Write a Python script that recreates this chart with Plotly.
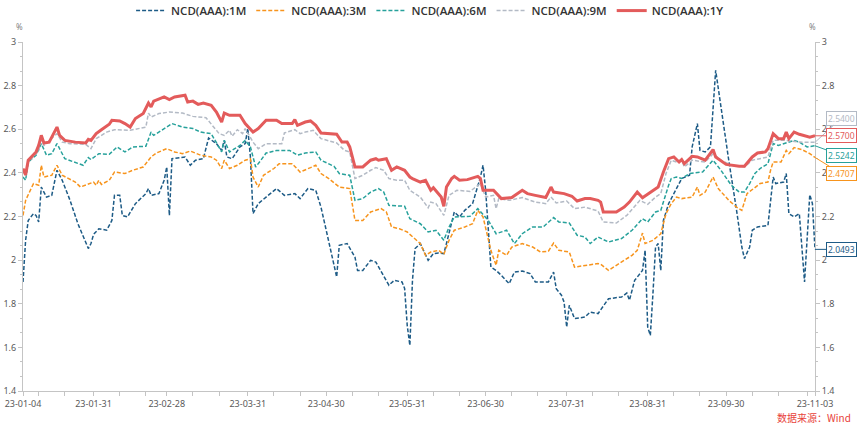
import plotly.graph_objects as go

def D(md):
    return [f"2023-{s}" for s in md]

# ---------------- data ----------------
dates_1m = D(["01-04","01-05","01-06","01-08","01-09","01-10","01-11","01-13","01-15","01-17","01-19","01-22","01-25","01-28","01-29","01-30","01-31",
 "02-02","02-05","02-07","02-08","02-10","02-11","02-13","02-16","02-20","02-21","02-22","02-25","02-27","02-28",
 "03-01","03-02","03-07","03-09","03-11","03-14","03-16","03-19","03-21","03-22","03-23","03-25","03-28","03-30","03-31",
 "04-01","04-02","04-04","04-07","04-11","04-14","04-18","04-20","04-23","04-26","04-28","04-30",
 "05-03","05-04","05-05","05-08","05-11","05-12","05-14","05-17","05-19","05-22","05-24","05-26","05-29","05-30","05-31",
 "06-01","06-02","06-03","06-05","06-08","06-10","06-12","06-14","06-15","06-17","06-18","06-20","06-22","06-25","06-28","06-29","06-30",
 "07-02","07-04","07-06","07-09","07-11","07-14","07-17","07-19","07-24","07-26","07-27","07-29","07-30","07-31",
 "08-01","08-03","08-07","08-09","08-12","08-16","08-21","08-23","08-24","08-26","08-29","08-30","08-31",
 "09-01","09-02","09-03","09-04","09-05","09-06","09-08","09-10","09-13","09-16","09-17","09-19","09-20","09-22","09-24","09-26","09-28",
 "10-01","10-04","10-06","10-07","10-09","10-10","10-12","10-16","10-18","10-19","10-22","10-23","10-24","10-26","10-28","10-30",
 "11-01","11-02","11-03"])
ncd_1m = [1.90,2.091,2.182,2.213,2.205,2.175,2.335,2.289,2.297,2.412,2.366,2.274,2.167,2.076,2.053,2.076,2.118,
 2.144,2.137,2.182,2.297,2.297,2.205,2.198,2.259,2.305,2.328,2.297,2.305,2.366,2.427,
 2.205,2.465,2.473,2.435,2.458,2.465,2.56,2.534,2.503,2.549,2.473,2.465,2.519,2.534,2.603,
 2.473,2.213,2.259,2.289,2.328,2.297,2.305,2.282,2.328,2.32,2.243,2.137,
 1.968,1.923,2.068,2.076,2.014,1.953,1.953,1.999,1.991,1.923,1.885,1.907,1.90,1.87,1.70,
 1.609,1.907,2.053,2.076,1.999,2.03,2.033,2.03,2.076,2.182,2.221,2.198,2.228,2.259,2.381,2.435,2.32,
 1.968,1.953,1.93,1.892,1.945,1.95,1.938,1.90,1.90,1.945,1.869,1.839,1.808,1.693,
 1.793,1.732,1.739,1.762,1.755,1.823,1.831,1.849,1.816,1.907,1.953,2.045,1.693,
 1.655,1.846,2.06,2.076,1.953,2.182,2.259,2.305,2.374,2.389,2.519,2.626,2.503,2.496,2.519,2.87,2.702,
 2.458,2.228,2.06,2.007,2.06,2.137,2.152,2.159,2.381,2.351,2.358,2.397,2.213,2.198,2.213,1.90,
 2.30,2.26,2.0493]

dates_3m = D(["01-04","01-05","01-08","01-10","01-11","01-12","01-15","01-17","01-19","01-24","01-26","01-28","01-31",
 "02-01","02-02","02-03","02-06","02-08","02-12","02-15","02-19","02-22","02-24","02-28",
 "03-03","03-06","03-09","03-13","03-17","03-19","03-21","03-22","03-24","03-27","03-30",
 "04-01","04-02","04-04","04-06","04-10","04-12","04-17","04-20","04-24","04-26","04-28",
 "05-01","05-05","05-09","05-11","05-14","05-17","05-21","05-23","05-25","05-28","05-31",
 "06-01","06-05","06-07","06-09","06-12","06-14","06-16","06-18","06-22","06-25","06-27","06-29",
 "07-02","07-04","07-05","07-08","07-10","07-14","07-18","07-21","07-24","07-26","07-28",
 "08-01","08-03","08-07","08-12","08-13","08-16","08-19","08-22","08-25","08-27","08-29","08-30",
 "09-02","09-05","09-07","09-09","09-11","09-13","09-17","09-19","09-20","09-22","09-25","09-27",
 "10-01","10-04","10-06","10-08","10-11","10-13","10-16","10-17","10-18","10-21","10-23","10-24","10-26","10-29",
 "11-01","11-03"])
ncd_3m = [2.205,2.274,2.351,2.343,2.435,2.381,2.389,2.435,2.389,2.358,2.335,2.343,2.358,
 2.343,2.366,2.347,2.366,2.404,2.397,2.412,2.427,2.473,2.491,2.511,
 2.496,2.488,2.50,2.481,2.473,2.458,2.42,2.458,2.42,2.435,2.458,
 2.465,2.381,2.335,2.389,2.42,2.442,2.442,2.404,2.424,2.435,2.397,
 2.374,2.335,2.328,2.182,2.182,2.221,2.236,2.221,2.152,2.144,2.129,
 2.118,2.076,2.022,2.037,2.045,2.027,2.091,2.137,2.152,2.167,2.228,2.198,
 2.045,1.976,2.045,2.022,2.06,2.076,2.06,2.037,2.041,2.078,2.045,
 2.037,1.968,1.976,1.984,1.981,1.953,1.976,1.999,2.022,2.045,2.124,2.076,
 2.091,2.121,2.213,2.259,2.289,2.282,2.289,2.335,2.297,2.312,2.381,2.328,
 2.274,2.243,2.228,2.305,2.335,2.351,2.358,2.412,2.45,2.45,2.503,2.488,2.516,2.507,
 2.488,2.4707]

dates_6m = D(["01-04","01-05","01-06","01-09","01-11","01-13","01-15","01-17","01-20","01-25","01-27","01-29","01-30",
 "02-02","02-06","02-09","02-12","02-15","02-20","02-22","02-23",
 "03-02","03-06","03-10","03-13","03-17","03-19","03-21","03-22","03-24","03-28","03-30",
 "04-01","04-03","04-05","04-07","04-11","04-16","04-19","04-22","04-26","04-28",
 "05-03","05-05","05-09","05-11","05-14","05-17","05-20","05-22","05-24","05-30",
 "06-01","06-05","06-08","06-11","06-14","06-16","06-18","06-22","06-24","06-27",
 "07-01","07-04","07-08","07-11","07-14","07-18","07-22","07-26","07-28",
 "08-01","08-04","08-07","08-09","08-12","08-16","08-21","08-25","08-29","08-31",
 "09-03","09-05","09-08","09-09","09-11","09-13","09-16","09-21","09-25","09-28",
 "10-02","10-05","10-07","10-09","10-11","10-13","10-16","10-18","10-20","10-23","10-26","10-28","10-31",
 "11-03"])
ncd_6m = [2.381,2.366,2.45,2.481,2.534,2.481,2.488,2.534,2.465,2.442,2.435,2.47,2.461,
 2.488,2.485,2.519,2.496,2.519,2.522,2.587,2.572,
 2.626,2.61,2.603,2.587,2.58,2.541,2.496,2.549,2.496,2.526,2.549,
 2.519,2.427,2.458,2.491,2.503,2.503,2.481,2.491,2.496,2.458,
 2.43,2.397,2.389,2.274,2.282,2.312,2.328,2.312,2.251,2.247,
 2.19,2.167,2.129,2.137,2.091,2.152,2.198,2.198,2.201,2.236,
 2.182,2.121,2.137,2.076,2.121,2.152,2.152,2.195,2.175,
 2.17,2.114,2.106,2.076,2.106,2.083,2.099,2.137,2.19,2.175,
 2.221,2.228,2.343,2.374,2.381,2.374,2.397,2.404,2.458,2.412,
 2.343,2.312,2.312,2.351,2.397,2.42,2.442,2.534,2.526,2.537,2.549,2.541,2.519,
 2.5242]

dates_9m = D(["01-04","01-05","01-06","01-10","01-11","01-12","01-17","01-19","01-22","01-28","01-30",
 "02-01","02-05","02-08","02-14","02-17","02-20","02-21","02-22","02-25",
 "03-01","03-06","03-10","03-15","03-17","03-19","03-20","03-22","03-24","03-25","03-27","03-29","03-30",
 "04-02","04-04","04-07","04-13","04-14","04-18","04-20","04-22","04-25","04-28",
 "05-04","05-07","05-09","05-11","05-14","05-17","05-19","05-22","05-24","05-27","05-30",
 "06-01","06-05","06-08","06-09","06-11","06-14","06-16","06-19","06-24","06-28","06-30",
 "07-03","07-04","07-05","07-09","07-14","07-19","07-23","07-25","07-27","07-31",
 "08-03","08-07","08-12","08-14","08-19","08-23","08-28","08-31",
 "09-03","09-05","09-07","09-09","09-11","09-13","09-14","09-17","09-22","09-25","09-28",
 "10-02","10-07","10-10","10-16","10-18","10-23","10-28","11-03"])
ncd_9m = [2.41,2.385,2.45,2.50,2.56,2.526,2.58,2.541,2.534,2.531,2.511,
 2.557,2.587,2.598,2.595,2.603,2.61,2.674,2.656,2.672,
 2.679,2.674,2.659,2.653,2.626,2.595,2.58,2.572,2.595,2.568,2.598,2.58,2.603,
 2.541,2.511,2.534,2.534,2.583,2.598,2.58,2.587,2.595,2.557,
 2.537,2.503,2.496,2.374,2.389,2.412,2.424,2.412,2.374,2.366,2.366,
 2.32,2.289,2.24,2.266,2.259,2.205,2.297,2.32,2.315,2.351,2.289,
 2.297,2.236,2.282,2.274,2.287,2.266,2.259,2.289,2.262,2.271,
 2.236,2.243,2.225,2.175,2.17,2.205,2.274,2.256,
 2.289,2.305,2.397,2.458,2.45,2.458,2.427,2.458,2.45,2.488,2.458,
 2.435,2.427,2.458,2.473,2.549,2.549,2.541,2.54]

dates_1y = D(["01-04","01-05","01-06","01-09","01-10","01-11","01-12","01-14","01-17","01-18","01-20","01-24","01-28","01-29","01-30",
 "02-01","02-03","02-06","02-07","02-10","02-12","02-14","02-16","02-19","02-21","02-22","02-23","02-27",
 "03-01","03-03","03-07","03-08","03-10","03-12","03-14","03-17","03-19","03-21","03-22","03-24","03-28","03-30",
 "04-02","04-04","04-07","04-11","04-13","04-17","04-18","04-19","04-22","04-24","04-26","04-28",
 "05-04","05-06","05-08","05-09","05-11","05-14","05-17","05-19","05-20","05-23","05-25","05-27","05-30",
 "06-01","06-02","06-05","06-07","06-09","06-10","06-12","06-13","06-14","06-15","06-17","06-18","06-20","06-23","06-27","06-28","06-29",
 "07-03","07-06","07-10","07-14","07-16","07-19","07-23","07-25","07-26","07-30",
 "08-02","08-04","08-07","08-09","08-12","08-13","08-14","08-19","08-22","08-24","08-27","08-29",
 "09-01","09-03","09-04","09-06","09-08","09-10","09-12","09-13","09-14","09-17","09-19","09-22","09-25","09-26","09-30",
 "10-05","10-07","10-10","10-12","10-15","10-16","10-18","10-20","10-22","10-23","10-24","10-26","10-28",
 "11-01","11-03"])
ncd_1y = [2.42,2.39,2.458,2.496,2.526,2.572,2.537,2.541,2.61,2.572,2.549,2.541,2.537,2.554,2.549,
 2.58,2.598,2.623,2.641,2.638,2.626,2.61,2.649,2.672,2.72,2.702,2.729,2.748,
 2.736,2.748,2.756,2.725,2.729,2.714,2.72,2.71,2.679,2.633,2.674,2.664,2.664,2.626,
 2.587,2.603,2.641,2.641,2.626,2.626,2.644,2.618,2.633,2.638,2.618,2.583,
 2.577,2.541,2.541,2.519,2.427,2.427,2.458,2.465,2.458,2.465,2.412,2.427,2.412,
 2.381,2.374,2.358,2.366,2.32,2.332,2.305,2.289,2.247,2.335,2.374,2.384,2.366,2.369,2.384,2.374,2.32,
 2.32,2.282,2.287,2.32,2.305,2.297,2.287,2.335,2.312,2.305,
 2.293,2.271,2.282,2.282,2.274,2.266,2.221,2.221,2.243,2.266,2.312,2.286,
 2.312,2.328,2.335,2.404,2.465,2.473,2.45,2.461,2.442,2.476,2.473,2.458,2.507,2.473,2.439,
 2.43,2.43,2.473,2.491,2.496,2.511,2.58,2.557,2.557,2.587,2.557,2.587,2.577,
 2.564,2.57]

tick_major = D(["01-04","01-31","02-28","03-31","04-30","05-31","06-30","07-31","08-31","09-30","11-03"])
tick_minor = D(["01-10","01-20","02-10","02-20","03-10","03-20","04-10","04-20","05-10","05-20","06-10","06-20",
                "07-10","07-20","08-10","08-20","09-10","09-20","10-10","10-20","10-31"])

# ---------------- styling ----------------
series = [
    ("NCD(AAA):1M", dates_1m, ncd_1m, "#1d5b86", 1.5, "4px,2px", 26, 0),
    ("NCD(AAA):3M", dates_3m, ncd_3m, "#f7941d", 1.5, "4px,2px", 26, 16),
    ("NCD(AAA):6M", dates_6m, ncd_6m, "#27a19b", 1.5, "4px,2px", 26, 9.5),
    ("NCD(AAA):9M", dates_9m, ncd_9m, "#b3bac5", 1.5, "4px,2px", 26, -24),
    ("NCD(AAA):1Y", dates_1y, ncd_1y, "#e35b5b", 3, "solid", 26, 0),
]

AX = "#c4c4c4"
TXT = "#595959"
tick_font = dict(family="Noto Sans", size=9, color=TXT)

fig = go.Figure()
annotations = []
for name, d, v, color, w, dash, ax, ay in series:
    fig.add_trace(go.Scatter(x=d, y=v, name=name, mode="lines",
                             line=dict(color=color, width=w, dash=dash)))
    annotations.append(dict(
        x=d[-1], y=v[-1], xref="x", yref="y", text=f"{v[-1]:.4f}",
        showarrow=True, arrowhead=0, arrowwidth=1, arrowcolor=color,
        ax=ax, ay=ay, axref="pixel", ayref="pixel",
        bordercolor=color, borderwidth=1, borderpad=1, bgcolor="white",
        font=dict(family="Noto Sans", size=8.5, color=color), xanchor="center"))

# invisible companion so the right axis is drawn
fig.add_trace(go.Scatter(x=[dates_1y[0]], y=[ncd_1y[0]], yaxis="y2", mode="markers",
                         marker=dict(opacity=0), showlegend=False, hoverinfo="skip"))

all_ticks = sorted(tick_major + tick_minor)
tick_text = [t[2:] if t in tick_major else "" for t in all_ticks]

annotations += [
    dict(x=-0.011, y=1.043, xref="paper", yref="paper", text="%", showarrow=False,
         yanchor="middle", font=dict(family="Noto Sans", size=8, color="#7f7f7f")),
    dict(x=1.004, y=1.043, xref="paper", yref="paper", text="%", showarrow=False,
         yanchor="middle", font=dict(family="Noto Sans", size=8, color="#7f7f7f")),
    dict(x=1.048, y=-0.077, xref="paper", yref="paper", text="数据来源：Wind", showarrow=False,
         xanchor="right", yanchor="middle",
         font=dict(family="Noto Sans CJK SC", size=10, color="#e8413a")),
]

fig.update_layout(
    width=865, height=429,
    margin=dict(l=23, r=50, t=42, b=38, autoexpand=False),
    paper_bgcolor="white", plot_bgcolor="white",
    showlegend=True,
    legend=dict(orientation="h", x=0.514, xanchor="center", y=1.09, yanchor="middle",
                font=dict(family="Open Sans", size=11.5, color="#333333", weight=600),
                itemwidth=30, bgcolor="rgba(0,0,0,0)"),
    xaxis=dict(type="date", range=[tick_major[0], tick_major[-1]],
               tickmode="array", tickvals=all_ticks, ticktext=tick_text,
               ticks="outside", ticklen=4, tickcolor=AX, showline=True, linecolor=AX,
               showgrid=False, zeroline=False, tickfont=tick_font, automargin=False),
    yaxis=dict(range=[1.4, 3.0], tick0=1.4, dtick=0.2, ticks="outside", ticklen=4,
               tickcolor=AX, showline=True, linecolor=AX, showgrid=False, zeroline=False,
               tickfont=tick_font, automargin=False,
               minor=dict(tick0=1.4, dtick=0.2 / 3, ticks="outside", ticklen=2, tickcolor=AX, showgrid=False)),
    yaxis2=dict(range=[1.4, 3.0], tick0=1.4, dtick=0.2, ticks="outside", ticklen=4,
                tickcolor=AX, showline=True, linecolor=AX, showgrid=False, zeroline=False,
                overlaying="y", side="right", tickfont=tick_font, automargin=False,
                minor=dict(tick0=1.4, dtick=0.2 / 3, ticks="outside", ticklen=2, tickcolor=AX, showgrid=False)),
    annotations=annotations,
)

fig.write_html("out.html")
